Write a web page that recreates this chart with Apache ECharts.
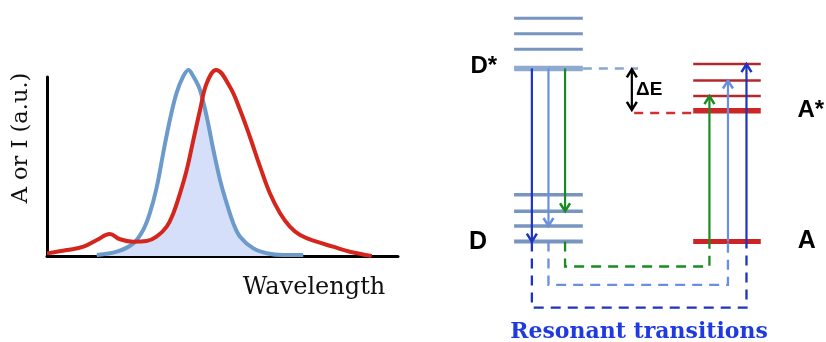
<!DOCTYPE html>
<html>
<head>
<meta charset="utf-8">
<script src="https://cdn.jsdelivr.net/npm/echarts@6/dist/echarts.min.js"></script>
<style>html,body{margin:0;padding:0;background:#fff;}#c{width:826px;height:342px;}</style>
</head>
<body>
<div id="c"></div>
<script>
// ---------- Left panel: spectral overlap (arbitrary units) ----------
const blueX = [14.2, 19.9, 24.6, 27.4, 29.3, 31.3, 33.1, 35.0, 36.9, 38.8, 40.3, 41.7, 43.6, 45.5, 47.4, 49.3, 51.2, 53.1, 55.0, 58.8, 62.6, 67.3, 73.0];
const blueY = [0.005, 0.023, 0.068, 0.14, 0.23, 0.373, 0.552, 0.731, 0.875, 0.965, 1.0, 0.965, 0.892, 0.749, 0.57, 0.409, 0.283, 0.175, 0.104, 0.041, 0.015, 0.005, 0.005];
const redX = [0, 5.7, 10.4, 14.2, 17.9, 20.8, 24.6, 28.4, 31.2, 34.1, 36.0, 37.9, 39.8, 41.7, 43.6, 45.5, 48.2, 52.1, 55.0, 57.8, 60.7, 63.5, 66.4, 69.2, 72.1, 76.8, 81.5, 86.3, 92.5];
const redY = [0.014, 0.032, 0.050, 0.086, 0.118, 0.090, 0.077, 0.081, 0.104, 0.158, 0.230, 0.337, 0.462, 0.624, 0.785, 0.928, 1.0, 0.910, 0.785, 0.641, 0.480, 0.337, 0.230, 0.158, 0.113, 0.077, 0.050, 0.023, 0.0];
const overlapX = [14.2, 19.9, 24.6, 25.3, 28.4, 31.2, 34.1, 36.0, 37.9, 39.8, 41.7, 43.6, 44.1, 45.5, 47.4, 49.3, 51.2, 53.1, 55.0, 58.8, 62.6, 67.3, 73.0];
const overlapY = [0.005, 0.023, 0.068, 0.077, 0.081, 0.104, 0.158, 0.230, 0.337, 0.462, 0.624, 0.785, 0.85, 0.749, 0.57, 0.409, 0.283, 0.175, 0.104, 0.041, 0.015, 0.005, 0.005];
const xAxisTitle = 'Wavelength';
const yAxisTitle = 'A or I (a.u.)';

// ---------- Right panel: energy levels (arbitrary energy units) ----------
const donorExcitedLevels = [10, 11.1, 12, 12.9];
const donorGroundLevels = [0, 0.9, 1.75, 2.7];
const acceptorExcitedLevels = [7.55, 8.4, 9.3, 10.25];
const acceptorGroundLevels = [0];
const emissionStart = 10;
const emissionTargets = [0, 0.9, 1.75];      // dark blue, light blue, green
const absorptionTargets = [10.25, 9.3, 8.4]; // dark blue, light blue, green
const deltaE = [10, 7.55];
const levelLabels = ['D*', 'D', 'A*', 'A'];
const deltaLabel = 'ΔE';
const caption = 'Resonant transitions';

// ---------- layout / style (not data) ----------
const donorCol = [19.2, 37.0];
const acceptorCol = [65.6, 83.1];
const emissionX = [23.8, 28.1, 32.4];
const absorptionX = [79.4, 74.6, 69.8];
const loopDepth = [-3.82, -2.5, -1.44];
const pairColors = ['#1d33c4', '#6990e0', '#1c8a22'];

const shapes = [];
function levelShapes(levels, col, color, thickColor, thickIdx, w, tw) {
  levels.forEach((e, i) => {
    shapes.push({kind: 'line', pts: [[col[0], e], [col[1], e]], stroke: i === thickIdx ? thickColor : color, width: i === thickIdx ? tw : w});
  });
}
levelShapes(donorExcitedLevels, donorCol, '#7795bf', '#8eaad0', 0, 3, 5.5);
levelShapes(donorGroundLevels, donorCol, '#7795bf', '#7795bf', 0, 3.5, 4);
levelShapes(acceptorExcitedLevels, acceptorCol, '#b3282c', '#cc2626', 0, 2.5, 5.5);
levelShapes(acceptorGroundLevels, acceptorCol, '#cc2424', '#cc2424', 0, 5, 5);
// dashed reference lines for ΔE
shapes.push({kind: 'line', pts: [[donorCol[1], deltaE[0]], [51.3, deltaE[0]]], stroke: '#8aa6cc', width: 2.5, dash: [9, 7]});
shapes.push({kind: 'line', pts: [[50.3, deltaE[1] - 0.12], [acceptorCol[0], deltaE[1] - 0.12]], stroke: '#d0302e', width: 2.5, dash: [9, 7]});
shapes.push({kind: 'dbl', pts: [[49.7, deltaE[0]], [49.7, deltaE[1]]], stroke: '#000', width: 2.2});
shapes.push({kind: 'text', pts: [[50.8, (deltaE[0] + deltaE[1]) / 2]], text: deltaLabel, align: 'left', font: 'bold 19px "Liberation Sans", Arial, sans-serif', fill: '#000'});
// resonant loops (dashed)
emissionTargets.forEach((t, i) => {
  shapes.push({kind: 'poly', pts: [[emissionX[i], 0], [emissionX[i], loopDepth[i]], [absorptionX[i], loopDepth[i]], [absorptionX[i], 0]], stroke: pairColors[i], width: 2.3, dash: [10, 7]});
});
// donor emission arrows
emissionTargets.forEach((t, i) => {
  shapes.push({kind: 'arrow', pts: [[emissionX[i], emissionStart], [emissionX[i], t]], stroke: pairColors[i], width: 2.2});
});
// acceptor absorption arrows
absorptionTargets.forEach((t, i) => {
  shapes.push({kind: 'arrow', pts: [[absorptionX[i], 0], [absorptionX[i], t]], stroke: pairColors[i], width: 2.2});
});
// level labels
const labelFont = 'bold 24px "Liberation Sans", Arial, sans-serif';
shapes.push({kind: 'text', pts: [[14.8, donorExcitedLevels[0] + 0.13]], text: levelLabels[0], align: 'right', font: labelFont, fill: '#000'});
shapes.push({kind: 'text', pts: [[12.2, donorGroundLevels[0] - 0.05]], text: levelLabels[1], align: 'right', font: 'bold 25px "Liberation Sans", Arial, sans-serif', fill: '#000'});
shapes.push({kind: 'text', pts: [[92.6, acceptorExcitedLevels[0] + 0.05]], text: levelLabels[2], align: 'left', font: labelFont, fill: '#000'});
shapes.push({kind: 'text', pts: [[92.7, acceptorGroundLevels[0] + 0.03]], text: levelLabels[3], align: 'left', font: 'bold 25px "Liberation Sans", Arial, sans-serif', fill: '#000'});

function chevron(tip, dir, hw, len) {
  return [[tip[0] - hw, tip[1] - dir * len], [tip[0], tip[1]], [tip[0] + hw, tip[1] - dir * len]];
}

function renderItem(params, api) {
  const s = shapes[params.dataIndex];
  const p = s.pts.map(q => api.coord(q));
  if (s.kind === 'line' || s.kind === 'poly') {
    return {type: 'polyline', shape: {points: p}, style: {stroke: s.stroke, lineWidth: s.width, lineDash: s.dash || null, fill: null}, silent: true};
  }
  if (s.kind === 'arrow') {
    const dir = p[1][1] > p[0][1] ? 1 : -1;
    return {type: 'group', children: [
      {type: 'line', shape: {x1: p[0][0], y1: p[0][1], x2: p[1][0], y2: p[1][1]}, style: {stroke: s.stroke, lineWidth: s.width}},
      {type: 'polyline', shape: {points: chevron(p[1], dir, 5, 8)}, style: {stroke: s.stroke, lineWidth: s.width + 0.3, fill: null}}
    ]};
  }
  if (s.kind === 'dbl') {
    return {type: 'group', children: [
      {type: 'line', shape: {x1: p[0][0], y1: p[0][1] + 1, x2: p[1][0], y2: p[1][1] - 1}, style: {stroke: s.stroke, lineWidth: s.width}},
      {type: 'polyline', shape: {points: chevron([p[0][0], p[0][1] + 1], -1, 5, 8)}, style: {stroke: s.stroke, lineWidth: s.width + 0.3, fill: null}},
      {type: 'polyline', shape: {points: chevron([p[1][0], p[1][1] - 1], 1, 5, 8)}, style: {stroke: s.stroke, lineWidth: s.width + 0.3, fill: null}}
    ]};
  }
  if (s.kind === 'text') {
    return {type: 'text', x: p[0][0], y: p[0][1], style: {text: s.text, font: s.font, fill: s.fill, textAlign: s.align, textVerticalAlign: 'middle'}};
  }
  return null;
}

const zip = (xs, ys) => xs.map((x, i) => [x, ys[i]]);

const chart = echarts.init(document.getElementById('c'), null, {renderer: 'canvas'});
chart.setOption({
  animation: false,
  backgroundColor: '#fff',
  grid: [
    {left: 47, top: 77, width: 351, height: 179},
    {left: 440, top: 0, width: 386, height: 342}
  ],
  xAxis: [
    {gridIndex: 0, type: 'value', min: 0, max: 100, axisLine: {show: true, lineStyle: {color: '#000', width: 3}}, axisTick: {show: false}, axisLabel: {show: false}, splitLine: {show: false}},
    {gridIndex: 1, type: 'value', min: 0, max: 100, show: false}
  ],
  yAxis: [
    {gridIndex: 0, type: 'value', min: 0, max: 0.962, axisLine: {show: true, lineStyle: {color: '#000', width: 3}}, axisTick: {show: false}, axisLabel: {show: false}, splitLine: {show: false}},
    {gridIndex: 1, type: 'value', min: -5.8, max: 13.95, show: false}
  ],
  graphic: [
    {type: 'text', x: 314, y: 288, style: {text: xAxisTitle, font: '24px "DejaVu Serif", serif', fill: '#111', textAlign: 'center', textVerticalAlign: 'middle'}},
    {type: 'text', x: 21.5, y: 138, rotation: Math.PI / 2, style: {text: yAxisTitle, font: '22.5px "DejaVu Serif", serif', fill: '#111', textAlign: 'center', textVerticalAlign: 'middle'}},
    {type: 'text', x: 639, y: 332, style: {text: caption, font: 'bold 22px "DejaVu Serif", serif', fill: '#1f3be0', textAlign: 'center', textVerticalAlign: 'middle'}}
  ],
  series: [
    {type: 'line', xAxisIndex: 0, yAxisIndex: 0, data: zip(overlapX, overlapY), smooth: 0.35, symbol: 'none', clip: false, lineStyle: {width: 0}, areaStyle: {color: '#d5dff9', opacity: 1}, z: 1},
    {type: 'line', xAxisIndex: 0, yAxisIndex: 0, data: zip(blueX, blueY), smooth: 0.35, symbol: 'none', clip: false, lineStyle: {color: '#6b9acb', width: 4}, z: 2},
    {type: 'line', xAxisIndex: 0, yAxisIndex: 0, data: zip(redX, redY), smooth: 0.4, symbol: 'none', clip: false, lineStyle: {color: '#d4261c', width: 4}, z: 3},
    {type: 'custom', xAxisIndex: 1, yAxisIndex: 1, renderItem: renderItem, clip: false,
     data: shapes.map((s, i) => [s.pts[0][0], s.pts[0][1], i]), encode: {x: 0, y: 1}, silent: true, z: 4}
  ]
});
</script>
</body>
</html>
